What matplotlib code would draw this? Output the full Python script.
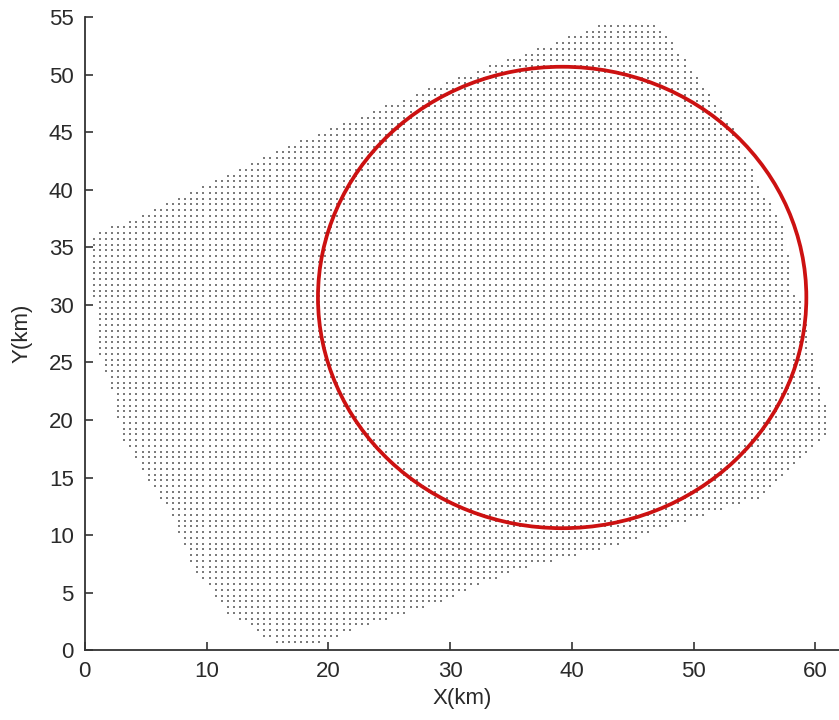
#!/usr/bin/env python3
"""Station coverage grid with the search circle drawn over it."""
import numpy as np
import matplotlib
matplotlib.use("Agg")
import matplotlib.pyplot as plt
from matplotlib.path import Path
from matplotlib.patches import Circle

# outline of the covered area (km), walked clockwise from the west corner
AREA_X = [0.3, 0.8, 1.3, 2.2, 3.1, 5.0, 7.0, 8.9, 11.7, 14.0, 15.8, 18.8,
          22.6, 28.6, 31.0, 35.5, 41.2, 45.6, 48.6, 55.5, 58.7, 61.2,
          61.0, 60.1, 59.3, 58.2, 57.4, 55.7, 53.2, 50.3, 47.5, 47.0,
          42.9, 41.3, 30.0, 17.0]
AREA_Y = [35.8, 30.0, 25.0, 22.6, 18.5, 15.0, 11.9, 7.2, 3.2, 1.8, 0.4, 0.4,
          2.0, 3.9, 5.0, 7.0, 8.4, 9.8, 11.0, 13.3, 16.3, 19.2,
          20.5, 23.2, 30.0, 31.0, 36.8, 39.7, 45.5, 49.8, 53.9, 54.5,
          54.5, 53.9, 49.5, 44.0]
GRID_STEP = 0.5          # km between grid nodes

# search circle
CIRCLE_X, CIRCLE_Y, CIRCLE_R = 39.2, 30.65, 20.05

X_TICKS = [0, 10, 20, 30, 40, 50, 60]
Y_TICKS = [0, 5, 10, 15, 20, 25, 30, 35, 40, 45, 50, 55]

plt.rcParams["font.family"] = ["Liberation Sans", "DejaVu Sans"]

fig = plt.figure(figsize=(8.39, 7.2), dpi=100)
ax = fig.add_axes([0.101, 0.097, 0.90, 0.879])

# regular grid masked by the area outline
gx, gy = np.meshgrid(np.arange(0.25, 62.0, GRID_STEP),
                     np.arange(0.25, 55.0, GRID_STEP))
pts = np.column_stack([gx.ravel(), gy.ravel()])
inside = Path(np.column_stack([AREA_X, AREA_Y])).contains_points(pts)
ax.scatter(pts[inside, 0], pts[inside, 1], s=3.0, marker="s", c="#7c7c7c",
           linewidths=0, zorder=1)

ax.add_patch(Circle((CIRCLE_X, CIRCLE_Y), CIRCLE_R, fill=False,
                    edgecolor="#cc1111", lw=2.7, zorder=3))

ax.set_xlim(0, 62)
ax.set_ylim(0, 55)
ax.set_xticks(X_TICKS)
ax.set_yticks(Y_TICKS)
for s in ("top", "right"):
    ax.spines[s].set_visible(False)
for s in ("left", "bottom"):
    ax.spines[s].set_linewidth(1.3)
    ax.spines[s].set_color("#333333")
ax.tick_params(direction="in", length=6, width=1.2, color="#333333",
               labelsize=16, labelcolor="#2a2a2a", pad=8)
ax.set_xlabel("X(km)", fontsize=16, color="#2a2a2a", labelpad=4)
ax.set_ylabel("Y(km)", fontsize=16, color="#2a2a2a", labelpad=12)

fig.savefig("out.png", dpi=100)
